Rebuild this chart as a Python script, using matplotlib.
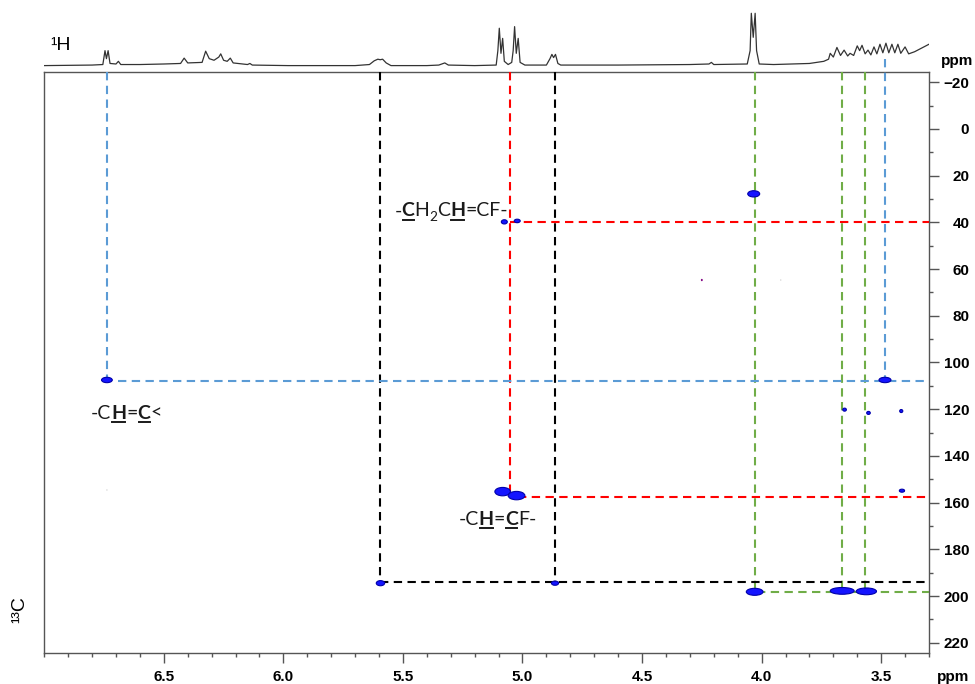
import matplotlib
matplotlib.use('Agg')
import matplotlib.pyplot as plt
from matplotlib.patches import Ellipse
from matplotlib.lines import Line2D
from matplotlib.transforms import IdentityTransform
from matplotlib.ticker import MultipleLocator

# 1H trace (ppm, relative intensity)
h_ppm = [7.00, 6.80, 6.755, 6.746, 6.740, 6.733, 6.725, 6.700, 6.690, 6.680,
         6.60, 6.50, 6.43, 6.415, 6.400, 6.34, 6.325, 6.31, 6.29, 6.27,
         6.262, 6.25, 6.235, 6.222, 6.21, 6.15, 6.14, 6.13, 5.98, 5.70,
         5.64, 5.62, 5.605, 5.595, 5.585, 5.57, 5.55, 5.40, 5.35, 5.325,
         5.31, 5.20, 5.11, 5.103, 5.097, 5.090, 5.083, 5.076, 5.060, 5.045,
         5.039, 5.033, 5.026, 5.018, 5.010, 4.99, 4.90, 4.885, 4.877, 4.870,
         4.862, 4.852, 4.84, 4.60, 4.30, 4.22, 4.21, 4.20, 4.06, 4.048,
         4.043, 4.035, 4.027, 4.021, 4.01, 3.95, 3.80, 3.74, 3.72, 3.713,
         3.70, 3.685, 3.67, 3.655, 3.64, 3.63, 3.615, 3.60, 3.59, 3.58,
         3.567, 3.555, 3.543, 3.53, 3.518, 3.505, 3.493, 3.48, 3.468, 3.455,
         3.443, 3.43, 3.418, 3.40, 3.385, 3.36, 3.33, 3.30]
h_int = [0.02, 0.03, 0.04, 0.30, 0.15, 0.30, 0.06, 0.05, 0.10, 0.04,
         0.04, 0.05, 0.06, 0.16, 0.07, 0.08, 0.29, 0.15, 0.12, 0.18,
         0.24, 0.12, 0.10, 0.16, 0.07, 0.04, 0.06, 0.03, 0.02, 0.02,
         0.04, 0.11, 0.14, 0.13, 0.14, 0.07, 0.02, 0.02, 0.03, 0.07,
         0.03, 0.02, 0.03, 0.30, 0.72, 0.25, 0.53, 0.10, 0.04, 0.08,
         0.30, 0.75, 0.25, 0.53, 0.08, 0.03, 0.03, 0.15, 0.23, 0.17,
         0.23, 0.06, 0.03, 0.03, 0.04, 0.05, 0.08, 0.04, 0.05, 0.30,
         1.00, 0.55, 1.00, 0.30, 0.05, 0.04, 0.06, 0.10, 0.14, 0.25,
         0.18, 0.36, 0.21, 0.31, 0.20, 0.25, 0.21, 0.39, 0.30, 0.40,
         0.24, 0.31, 0.22, 0.37, 0.24, 0.42, 0.26, 0.44, 0.26, 0.42,
         0.26, 0.42, 0.25, 0.37, 0.24, 0.28, 0.35, 0.42]

# HSQC cross peaks: 1H ppm, 13C ppm, extent in 1H ppm, extent in 13C ppm
pk_h = [6.738, 3.484, 4.033, 5.076, 5.022, 5.083, 5.025, 5.594, 4.864,
        4.029, 3.663, 3.562, 3.653, 3.553, 3.416, 3.413, 4.25, 3.92, 6.738]
pk_c = [107.5, 107.5, 27.8, 39.8, 39.4, 155.3, 157.0, 194.5, 194.5,
        198.2, 197.8, 198.0, 120.2, 121.6, 120.8, 154.9, 64.7, 64.7, 154.6]
pk_w = [0.045, 0.05, 0.05, 0.025, 0.025, 0.065, 0.07, 0.035, 0.03,
        0.07, 0.10, 0.085, 0.015, 0.015, 0.013, 0.022, 0.008, 0.006, 0.006]
pk_hh = [2.3, 2.3, 2.7, 1.8, 1.5, 3.6, 3.6, 2.2, 1.8,
         3.0, 2.9, 2.9, 1.3, 1.3, 1.3, 1.3, 1.0, 0.6, 0.6]
pk_col = ['b'] * 16 + ['purple', 'lightgray', 'lightgray']

# correlation guides
v_h = [6.738, 3.484, 5.051, 5.594, 4.862, 4.026, 3.663, 3.566]
v_top = [-24.5, -30.0, -24.5, -24.5, -24.5, -24.5, -24.5, -24.5]
v_end = [107.5, 107.5, 157.5, 194.2, 194.2, 198.1, 198.1, 198.1]
v_col = ['#5b9bd5', '#5b9bd5', '#ff0000', 'k', 'k', '#70ad47', '#70ad47', '#70ad47']
h_c = [108.0, 40.0, 157.5, 194.2, 198.1]
h_start = [6.69, 5.051, 5.02, 5.594, 4.02]
h_col = ['#5b9bd5', '#ff0000', '#ff0000', 'k', '#70ad47']

xlo, xhi = 7.0, 3.3
ylo, yhi = 224.4, -24.5

fig = plt.figure(figsize=(9.75, 6.84), dpi=100)
ax = fig.add_axes([0.0454, 0.0453, 0.9074, 0.8499])
top = fig.add_axes([0.0454, 0.8952, 0.9074, 0.1048], sharex=ax)

top.plot(h_ppm, h_int, color='#333333', lw=0.9)
top.set_ylim(-0.094, 1.249)
top.axis('off')

for x, y, w, hh, c in zip(pk_h, pk_c, pk_w, pk_hh, pk_col):
    if c == 'b':
        e = Ellipse((x, y), w, hh, facecolor='#1414ff', edgecolor='#0000aa', lw=0.8, zorder=4)
    else:
        e = Ellipse((x, y), w, hh, facecolor=c, edgecolor='none', zorder=4)
    ax.add_patch(e)

for x, t, y, c in zip(v_h, v_top, v_end, v_col):
    ax.plot([x, x], [t, y], color=c, lw=1.5, dashes=(4, 2.6), clip_on=False, zorder=3)
for y, x, c in zip(h_c, h_start, h_col):
    ax.plot([x, xhi], [y, y], color=c, lw=1.5, dashes=(4, 2.6), zorder=3)

ax.set_xlim(xlo, xhi)
ax.set_ylim(ylo, yhi)
ax.yaxis.tick_right()
ax.xaxis.set_major_locator(MultipleLocator(0.5))
ax.xaxis.set_minor_locator(MultipleLocator(0.1))
ax.yaxis.set_major_locator(MultipleLocator(20))
ax.yaxis.set_minor_locator(MultipleLocator(10))
ax.set_xticks([6.5, 6.0, 5.5, 5.0, 4.5, 4.0, 3.5])
ax.set_xticklabels(['6.5', '6.0', '5.5', '5.0', '4.5', '4.0', '3.5'])
for sp in ax.spines.values():
    sp.set_color('#555555')
    sp.set_linewidth(1.0)
ax.tick_params(which='both', direction='out', color='#555555', width=1.0)
ax.tick_params(which='major', length=7)
ax.tick_params(which='minor', length=3)
ax.tick_params(axis='y', which='major', pad=22)
ax.tick_params(axis='x', which='major', pad=5)
for lab in ax.get_xticklabels() + ax.get_yticklabels():
    lab.set_fontfamily('Liberation Sans')
    lab.set_fontweight('bold')
    lab.set_fontsize(11)
for lab in ax.get_yticklabels():
    lab.set_ha('right')

fig.text(953 / 975, 1 - 677 / 684, 'ppm', ha='center', va='center',
         family='Liberation Sans', weight='bold', fontsize=11)
fig.text(957 / 975, 1 - 61 / 684, 'ppm', ha='center', va='center',
         family='Liberation Sans', weight='bold', fontsize=11)
fig.text(50 / 975, 1 - 45 / 684, '¹H', ha='left', va='center',
         family='Liberation Sans', fontsize=14)
fig.text(20 / 975, 1 - 610 / 684, '¹³C', ha='center', va='center', rotation=90,
         family='Liberation Sans', fontsize=14)

rend = fig.canvas.get_renderer()


def formula(x, y, parts, size=14):
    off = 0.0
    base = ax.transData.transform((x, y))[1]
    for s, kind in parts:
        fs = size * 0.7 if kind == 'sub' else size
        dy = -size * 0.22 if kind == 'sub' else 0
        t = ax.annotate(s, (x, y), xytext=(off, dy), textcoords='offset points',
                        fontsize=fs, family='Lato', va='baseline', ha='left',
                        fontweight='bold' if kind == 'bu' else 'normal', color='#1a1a1a')
        bb = t.get_window_extent(rend)
        if kind == 'bu':
            fig.add_artist(Line2D([bb.x0 + 1, bb.x1 - 1], [base - 3.5, base - 3.5], lw=1.4,
                                  color='#1a1a1a', transform=IdentityTransform()))
        off += bb.width * 72 / fig.dpi


formula(5.536, 37.5, [('-', 'n'), ('C', 'bu'), ('H', 'n'), ('2', 'sub'), ('C', 'n'),
                      ('H', 'bu'), ('=CF-', 'n')])
formula(6.805, 124.0, [('-C', 'n'), ('H', 'bu'), ('=', 'n'), ('C', 'bu'), ('<', 'n')])
formula(5.268, 169.5, [('-C', 'n'), ('H', 'bu'), ('=', 'n'), ('C', 'bu'), ('F-', 'n')])

fig.savefig('out.png', dpi=100)
